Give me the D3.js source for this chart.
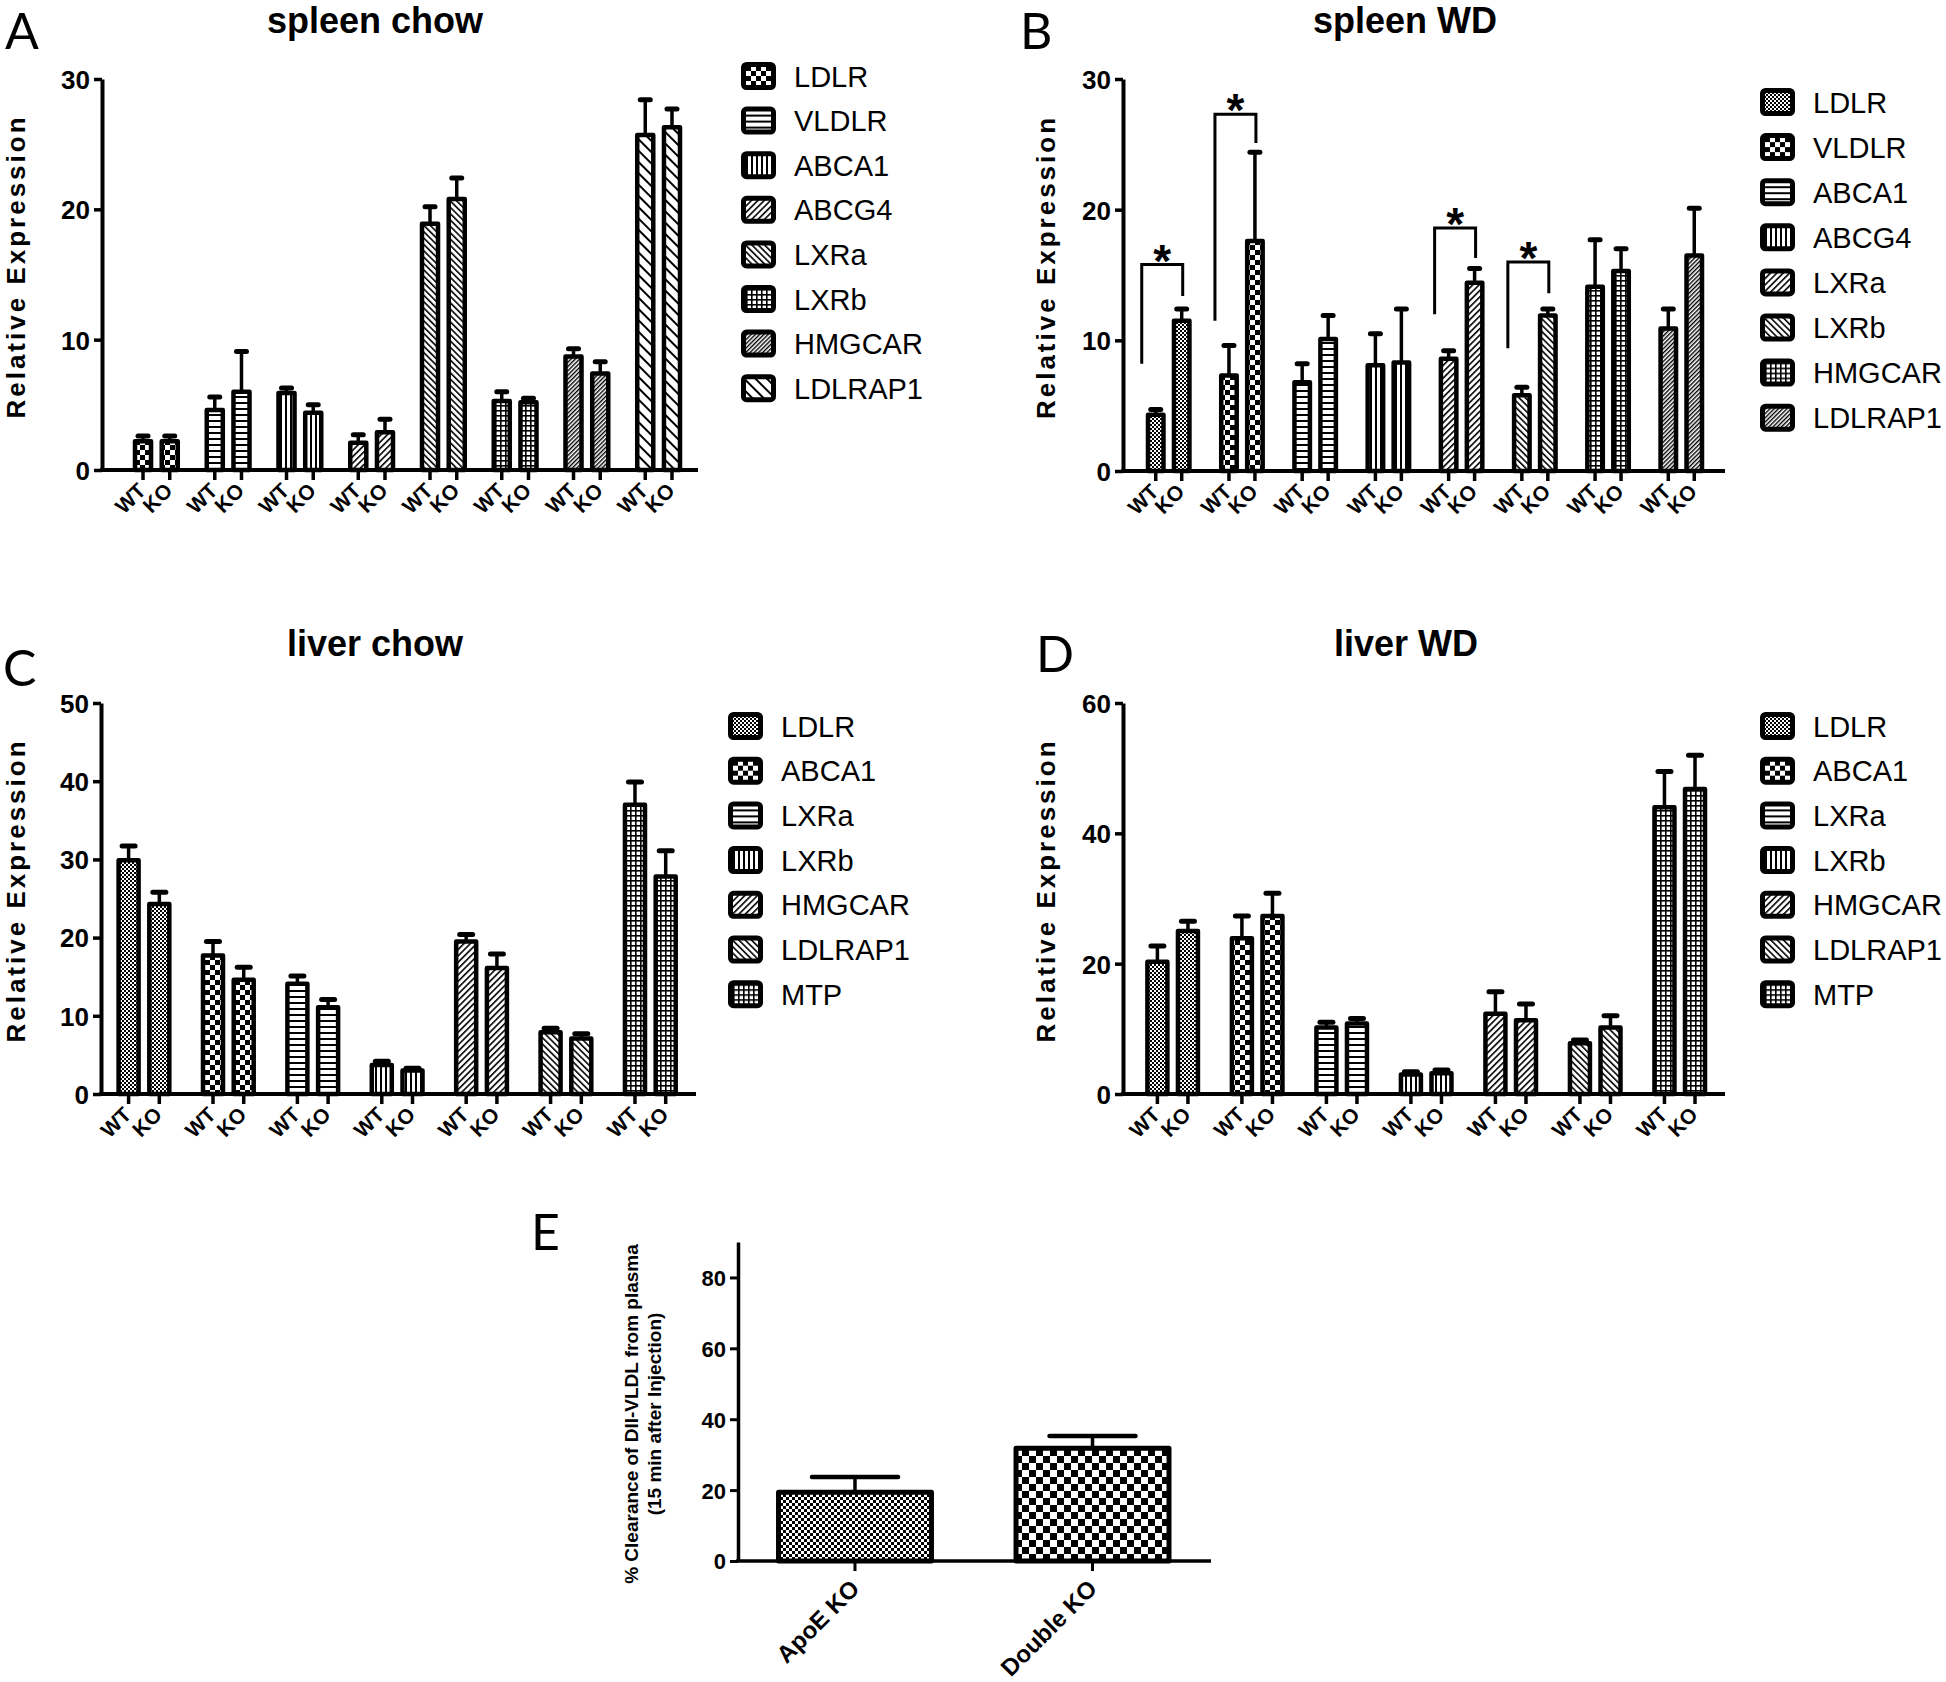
<!DOCTYPE html>
<html>
<head>
<meta charset="utf-8">
<script src="https://cdn.jsdelivr.net/npm/d3@7"></script>
<style>
  body { margin: 0; background: #fff; }
  svg text { font-family: "Liberation Sans", Arial, sans-serif; fill: #000; }
  svg text.letter { font-family: Lato, "Open Sans", sans-serif; }
</style>
</head>
<body>
<svg id="fig"></svg>
<script>
// ---------- data ----------
var genotypes = ["WT", "KO"];

var spleenChowGenes = ["LDLR", "VLDLR", "ABCA1", "ABCG4", "LXRa", "LXRb", "HMGCAR", "LDLRAP1"];
var spleenChowWT    = [2.2, 4.6, 5.9, 2.1, 18.9, 5.3, 8.7, 25.7];
var spleenChowWTErr = [0.4, 1.0, 0.4, 0.6, 1.3, 0.7, 0.6, 2.7];
var spleenChowKO    = [2.2, 6.0, 4.4, 2.9, 20.8, 5.2, 7.4, 26.3];
var spleenChowKOErr = [0.4, 3.1, 0.6, 1.0, 1.6, 0.3, 0.9, 1.4];

var spleenWDGenes = ["LDLR", "VLDLR", "ABCA1", "ABCG4", "LXRa", "LXRb", "HMGCAR", "LDLRAP1"];
var spleenWDWT    = [4.3, 7.3, 6.8, 8.1, 8.6, 5.8, 14.1, 10.9];
var spleenWDWTErr = [0.4, 2.3, 1.4, 2.4, 0.6, 0.6, 3.6, 1.5];
var spleenWDKO    = [11.5, 17.6, 10.1, 8.3, 14.4, 11.9, 15.3, 16.5];
var spleenWDKOErr = [0.9, 6.8, 1.8, 4.1, 1.1, 0.5, 1.7, 3.6];
// significance brackets: gene, WT leg bottom, bracket top, KO leg bottom
var spleenWDSig = [
  ["LDLR", 8.2, 15.8, 13.4],
  ["VLDLR", 11.5, 27.3, 25.1],
  ["LXRa", 12.0, 18.6, 16.3],
  ["LXRb", 9.4, 16.0, 13.6]
];

var liverGenes = ["LDLR", "ABCA1", "LXRa", "LXRb", "HMGCAR", "LDLRAP1", "MTP"];
var liverChowWT    = [29.9, 17.7, 14.1, 3.7, 19.5, 7.9, 37.0];
var liverChowWTErr = [1.8, 1.8, 1.0, 0.5, 0.9, 0.5, 2.9];
var liverChowKO    = [24.3, 14.6, 11.1, 3.0, 16.1, 7.1, 27.8];
var liverChowKOErr = [1.5, 1.6, 1.0, 0.3, 1.8, 0.6, 3.3];

var liverWDWT    = [20.3, 23.9, 10.2, 3.0, 12.3, 7.8, 44.0];
var liverWDWTErr = [2.4, 3.4, 0.8, 0.4, 3.4, 0.5, 5.5];
var liverWDKO    = [25.0, 27.3, 10.8, 3.2, 11.3, 10.2, 46.8];
var liverWDKOErr = [1.5, 3.5, 0.8, 0.5, 2.5, 1.8, 5.2];

var clearanceGroups = ["ApoE KO", "Double KO"];
var clearanceMean   = [19.4, 31.8];
var clearanceErr    = [4.3, 3.5];

var ticks30 = [0, 10, 20, 30];
var ticks50 = [0, 10, 20, 30, 40, 50];
var ticks60 = [0, 20, 40, 60];
var ticks80 = [0, 20, 40, 60, 80];

// ---------- setup ----------
var FONT = '"Liberation Sans", Arial, sans-serif';
var width = 1946, height = 1682;
var svg = d3.select("#fig").attr("width", width).attr("height", height);
var defs = svg.append("defs");

function checker(id, c) {
  var p = defs.append("pattern").attr("id", id).attr("patternUnits", "userSpaceOnUse")
    .attr("width", 2 * c).attr("height", 2 * c);
  p.append("rect").attr("width", 2 * c).attr("height", 2 * c).attr("fill", "#000");
  p.append("rect").attr("width", c).attr("height", c).attr("fill", "#fff");
  p.append("rect").attr("x", c).attr("y", c).attr("width", c).attr("height", c).attr("fill", "#fff");
}
function hatch(id, period, lw, angle) {
  var p = defs.append("pattern").attr("id", id).attr("patternUnits", "userSpaceOnUse")
    .attr("width", period).attr("height", period)
    .attr("patternTransform", "rotate(" + angle + ")");
  p.append("rect").attr("width", period).attr("height", period).attr("fill", "#fff");
  p.append("rect").attr("width", lw).attr("height", period).attr("fill", "#000");
}
function grid(id, c, lw) {
  var p = defs.append("pattern").attr("id", id).attr("patternUnits", "userSpaceOnUse")
    .attr("width", c).attr("height", c);
  p.append("rect").attr("width", c).attr("height", c).attr("fill", "#fff");
  p.append("rect").attr("width", lw).attr("height", c).attr("fill", "#000");
  p.append("rect").attr("width", c).attr("height", lw).attr("fill", "#000");
}

checker("checkBig", 5);
checker("checkFine", 2);
checker("checkE1", 3);
checker("checkE2", 7);
hatch("hLines", 6, 2, 90);
hatch("vLines", 5, 2, 0);
hatch("diagFwd", 4.5, 1.6, 45);
hatch("diagBack", 4.5, 1.6, -45);
hatch("diagDense", 3, 1.4, 45);
hatch("diagBackWide", 8, 2, -45);
grid("grid", 5, 1.6);

function panelLetter(t, x, y) {
  svg.append("text").attr("class", "letter").attr("x", x).attr("y", y).attr("font-size", 50).text(t);
}

function legend(names, fills, lx, ly, step) {
  var lg = svg.append("g").attr("transform", "translate(" + lx + "," + ly + ")");
  var item = lg.selectAll("g").data(names).enter().append("g")
    .attr("transform", function(d, i) { return "translate(0," + (i * step) + ")"; });
  item.append("rect").attr("x", 2.5).attr("y", -11.5).attr("width", 30).attr("height", 23).attr("rx", 3)
    .attr("fill", function(d, i) { return "url(#" + fills[i] + ")"; })
    .attr("stroke", "#000").attr("stroke-width", 5);
  item.append("text").attr("x", 53).attr("y", 10.5).attr("font-size", 29).text(function(d) { return d; });
}

function yAxis(g, y, x0, ticks, fs, sw) {
  var ya = g.append("g").attr("transform", "translate(" + x0 + ",0)")
    .call(d3.axisLeft(y).tickValues(ticks).tickSize(8).tickSizeOuter(0).tickPadding(4));
  ya.attr("font-size", fs).attr("font-family", FONT).attr("font-weight", "bold");
  ya.select(".domain").attr("stroke-width", sw);
  ya.selectAll(".tick line").attr("stroke-width", sw - 0.5);
  ya.selectAll(".tick text").attr("dy", "0.36em");
  return ya;
}

function barPanel(cfg) {
  var y = d3.scaleLinear().domain([0, cfg.yMax]).range([cfg.y0, cfg.yTop]);
  var gx = d3.scaleBand().domain(cfg.genes)
    .range([cfg.x0 + cfg.padL, cfg.x1 - cfg.padR]).paddingInner(cfg.gap);
  var sx = d3.scaleBand().domain(genotypes).range([0, gx.bandwidth()]).paddingInner(cfg.subGap);
  function cx(gene, grp) { return gx(gene) + sx(grp) + sx.bandwidth() / 2; }

  var rows = [];
  cfg.genes.forEach(function(gene, i) {
    rows.push({ gene: gene, i: i, grp: "WT", v: cfg.wt[i], e: cfg.wtErr[i] });
    rows.push({ gene: gene, i: i, grp: "KO", v: cfg.ko[i], e: cfg.koErr[i] });
  });

  var g = svg.append("g");

  // error bars (mean + SEM)
  g.selectAll("line.err").data(rows).enter().append("line")
    .attr("x1", function(d) { return cx(d.gene, d.grp); })
    .attr("x2", function(d) { return cx(d.gene, d.grp); })
    .attr("y1", function(d) { return y(d.v); })
    .attr("y2", function(d) { return y(d.v + d.e); })
    .attr("stroke", "#000").attr("stroke-width", 3.5);
  g.selectAll("line.cap").data(rows).enter().append("line")
    .attr("x1", function(d) { return cx(d.gene, d.grp) - cfg.cap / 2; })
    .attr("x2", function(d) { return cx(d.gene, d.grp) + cfg.cap / 2; })
    .attr("y1", function(d) { return y(d.v + d.e); })
    .attr("y2", function(d) { return y(d.v + d.e); })
    .attr("stroke", "#000").attr("stroke-width", 5).attr("stroke-linecap", "round");

  g.selectAll("rect.bar").data(rows).enter().append("rect")
    .attr("x", function(d) { return gx(d.gene) + sx(d.grp); })
    .attr("y", function(d) { return y(d.v); })
    .attr("width", sx.bandwidth())
    .attr("height", function(d) { return y(0) - y(d.v); })
    .attr("fill", function(d) { return "url(#" + cfg.fills[d.i] + ")"; })
    .attr("stroke", "#000").attr("stroke-width", 4.5).attr("stroke-linejoin", "round");

  // axes
  yAxis(g, y, cfg.x0, cfg.ticks, 26, 4);
  g.append("line").attr("x1", cfg.x0 - 2).attr("x2", cfg.x1).attr("y1", cfg.y0).attr("y2", cfg.y0)
    .attr("stroke", "#000").attr("stroke-width", 4);
  g.selectAll("line.xt").data(rows).enter().append("line")
    .attr("x1", function(d) { return cx(d.gene, d.grp); })
    .attr("x2", function(d) { return cx(d.gene, d.grp); })
    .attr("y1", cfg.y0).attr("y2", cfg.y0 + 10)
    .attr("stroke", "#000").attr("stroke-width", 3.5);
  g.selectAll("text.xl").data(rows).enter().append("text")
    .attr("transform", function(d) {
      return "translate(" + (cx(d.gene, d.grp) + 4) + "," + (cfg.y0 + 22) + ") rotate(-45)";
    })
    .attr("text-anchor", "end").attr("font-size", 21).attr("font-weight", "bold")
    .text(function(d) { return d.grp; });

  // y title, panel title
  g.append("text")
    .attr("transform", "translate(" + cfg.yTitleX + "," + ((cfg.y0 + cfg.yTop) / 2 - 8) + ") rotate(-90)")
    .attr("text-anchor", "middle").attr("font-size", 26).attr("font-weight", "bold")
    .attr("letter-spacing", 3).text("Relative Expression");
  g.append("text").attr("x", cfg.titleX).attr("y", cfg.titleY).attr("text-anchor", "middle")
    .attr("font-size", 36).attr("font-weight", "bold").text(cfg.title);

  // significance brackets
  (cfg.sig || []).forEach(function(s) {
    var xl = cx(s[0], "WT") - 14, xr = cx(s[0], "KO") + 1;
    g.append("path")
      .attr("d", "M" + xl + "," + y(s[1]) + "V" + y(s[2]) + "H" + xr + "V" + y(s[3]))
      .attr("fill", "none").attr("stroke", "#000").attr("stroke-width", 3);
    g.append("text").attr("x", (xl + xr) / 2).attr("y", y(s[2]) + 12).attr("text-anchor", "middle")
      .attr("font-size", 46).attr("font-weight", "bold").text("*");
  });

  legend(cfg.genes, cfg.fills, cfg.legX, cfg.legY, cfg.legStep);
}

// ---------- panels A-D ----------
barPanel({
  genes: spleenChowGenes, wt: spleenChowWT, wtErr: spleenChowWTErr, ko: spleenChowKO, koErr: spleenChowKOErr,
  fills: ["checkBig", "hLines", "vLines", "diagFwd", "diagBack", "grid", "diagDense", "diagBackWide"],
  yMax: 30, ticks: ticks30, x0: 102, x1: 698, y0: 470, yTop: 79,
  padL: 33, padR: 18, gap: 0.404, subGap: 0.40, cap: 10,
  yTitleX: 25, title: "spleen chow", titleX: 375, titleY: 33,
  legX: 741, legY: 76, legStep: 44.6
});
barPanel({
  genes: spleenWDGenes, wt: spleenWDWT, wtErr: spleenWDWTErr, ko: spleenWDKO, koErr: spleenWDKOErr,
  fills: ["checkFine", "checkBig", "hLines", "vLines", "diagFwd", "diagBack", "grid", "diagDense"],
  yMax: 30, ticks: ticks30, x0: 1123, x1: 1725, y0: 471, yTop: 79,
  padL: 25, padR: 23, gap: 0.434, subGap: 0.404, cap: 10, sig: spleenWDSig,
  yTitleX: 1055, title: "spleen WD", titleX: 1405, titleY: 33,
  legX: 1760, legY: 102, legStep: 45.1
});
barPanel({
  genes: liverGenes, wt: liverChowWT, wtErr: liverChowWTErr, ko: liverChowKO, koErr: liverChowKOErr,
  fills: ["checkFine", "checkBig", "hLines", "vLines", "diagFwd", "diagBack", "grid"],
  yMax: 50, ticks: ticks50, x0: 101, x1: 696, y0: 1094, yTop: 703,
  padL: 17.6, padR: 20.3, gap: 0.399, subGap: 0.349, cap: 13,
  yTitleX: 25, title: "liver chow", titleX: 375, titleY: 656,
  legX: 728, legY: 726, legStep: 44.7
});
barPanel({
  genes: liverGenes, wt: liverWDWT, wtErr: liverWDWTErr, ko: liverWDKO, koErr: liverWDKOErr,
  fills: ["checkFine", "checkBig", "hLines", "vLines", "diagFwd", "diagBack", "grid"],
  yMax: 60, ticks: ticks60, x0: 1123, x1: 1725, y0: 1094, yTop: 703,
  padL: 24.4, padR: 20, gap: 0.402, subGap: 0.346, cap: 13,
  yTitleX: 1055, title: "liver WD", titleX: 1406, titleY: 656,
  legX: 1760, legY: 726, legStep: 44.7
});

// ---------- panel E ----------
(function() {
  var x0 = 738, x1 = 1211, y0 = 1561, yTop = 1242;
  var y = d3.scaleLinear().domain([0, 90]).range([y0, yTop]);
  var x = d3.scaleBand().domain(clearanceGroups).range([x0 + 40.5, x1 - 42]).paddingInner(0.356);
  var fills = ["checkE1", "checkE2"];
  var rows = clearanceGroups.map(function(name, i) {
    return { name: name, i: i, v: clearanceMean[i], e: clearanceErr[i] };
  });
  function cx(d) { return x(d.name) + x.bandwidth() / 2; }
  var g = svg.append("g");

  g.selectAll("line.err").data(rows).enter().append("line")
    .attr("x1", cx).attr("x2", cx)
    .attr("y1", function(d) { return y(d.v); })
    .attr("y2", function(d) { return y(d.v + d.e); })
    .attr("stroke", "#000").attr("stroke-width", 3.5);
  g.selectAll("line.cap").data(rows).enter().append("line")
    .attr("x1", function(d) { return cx(d) - 43; })
    .attr("x2", function(d) { return cx(d) + 43; })
    .attr("y1", function(d) { return y(d.v + d.e); })
    .attr("y2", function(d) { return y(d.v + d.e); })
    .attr("stroke", "#000").attr("stroke-width", 4.5).attr("stroke-linecap", "round");
  g.selectAll("rect.bar").data(rows).enter().append("rect")
    .attr("x", function(d) { return x(d.name); })
    .attr("y", function(d) { return y(d.v); })
    .attr("width", x.bandwidth())
    .attr("height", function(d) { return y(0) - y(d.v); })
    .attr("fill", function(d) { return "url(#" + fills[d.i] + ")"; })
    .attr("stroke", "#000").attr("stroke-width", 5).attr("stroke-linejoin", "round");

  // y axis runs up to 90 without a tick there
  yAxis(g, y, x0, ticks80, 22, 3.5);

  g.append("line").attr("x1", x0 - 2).attr("x2", x1).attr("y1", y0).attr("y2", y0)
    .attr("stroke", "#000").attr("stroke-width", 3.5);
  g.selectAll("line.xt").data(rows).enter().append("line")
    .attr("x1", cx).attr("x2", cx).attr("y1", y0).attr("y2", y0 + 10)
    .attr("stroke", "#000").attr("stroke-width", 3);
  g.selectAll("text.xl").data(rows).enter().append("text")
    .attr("transform", function(d) { return "translate(" + (cx(d) + 6) + "," + (y0 + 29) + ") rotate(-45)"; })
    .attr("text-anchor", "end").attr("font-size", 24).attr("font-weight", "bold")
    .text(function(d) { return d.name; });

  var yt = g.append("text").attr("transform", "translate(638,1414) rotate(-90)")
    .attr("text-anchor", "middle").attr("font-size", 19).attr("font-weight", "bold");
  yt.append("tspan").attr("x", 0).attr("y", 0).text("% Clearance of DII-VLDL from plasma");
  yt.append("tspan").attr("x", 0).attr("y", 23).text("(15 min after Injection)");
})();

panelLetter("A", 5, 49);
panelLetter("B", 1020, 49);
panelLetter("C", 3, 686);
panelLetter("D", 1036, 672);
panelLetter("E", 531, 1250);
</script>
</body>
</html>
